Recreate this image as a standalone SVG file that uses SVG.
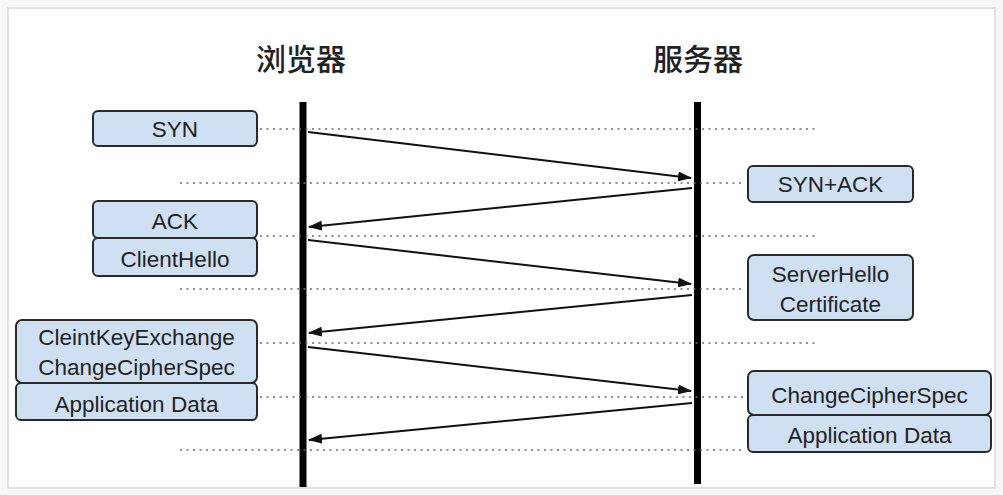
<svg xmlns="http://www.w3.org/2000/svg" width="1003" height="495" viewBox="0 0 1003 495">
<style>
.frame{fill:#ffffff;stroke:#e2e2e2;stroke-width:2}
.life{stroke:#000;stroke-width:7}
.dot{stroke:#6e6e6e;stroke-width:1.6;stroke-dasharray:2 4.5;fill:none}
.msg{stroke:#111;stroke-width:2;fill:none;marker-end:url(#ah)}
.box{fill:#cfe0f2;stroke:#2a2a2a;stroke-width:2}
.lbl{font-family:"Liberation Sans",Arial,sans-serif;font-size:22.5px;fill:#222;text-anchor:middle}
.title{font-family:"Noto Sans CJK SC","Noto Sans",sans-serif;font-size:30px;font-weight:500;fill:#222;text-anchor:middle}
</style>
<defs>
<marker id="ah" markerWidth="14" markerHeight="10" refX="13" refY="5" orient="auto" markerUnits="userSpaceOnUse">
<path d="M0,0 L14,5 L0,10 Z" fill="#111"/>
</marker>
</defs>
<rect x="0" y="0" width="1003" height="495" fill="#f7f7f7"/>
<rect class="frame" x="8" y="8" width="987" height="480"/>
<g id="browser">
<text class="title" x="301" y="70">浏览器</text>
<line class="life" x1="303" y1="102" x2="303" y2="487"/>
</g>
<g id="server">
<text class="title" x="698" y="70">服务器</text>
<line class="life" x1="697.5" y1="102" x2="697.5" y2="484"/>
</g>
<g id="guides">
<line class="dot" x1="260" y1="129" x2="815" y2="129"/>
<line class="dot" x1="180" y1="183" x2="745" y2="183"/>
<line class="dot" x1="260" y1="236" x2="815" y2="236"/>
<line class="dot" x1="180" y1="289" x2="745" y2="289"/>
<line class="dot" x1="260" y1="343" x2="815" y2="343"/>
<line class="dot" x1="260" y1="397" x2="745" y2="397"/>
<line class="dot" x1="180" y1="450" x2="745" y2="450"/>
</g>
<g id="connectors">
<line class="msg" x1="308" y1="132" x2="691" y2="178"/>
<line class="msg" x1="692" y1="188" x2="309" y2="227"/>
<line class="msg" x1="308" y1="240" x2="691" y2="284"/>
<line class="msg" x1="692" y1="295" x2="309" y2="333"/>
<line class="msg" x1="308" y1="347" x2="691" y2="391"/>
<line class="msg" x1="692" y1="403" x2="309" y2="440"/>
</g>
<g id="syn">
<rect class="box" x="93" y="111" width="164" height="35" rx="5"/>
<text class="lbl" x="175" y="137">SYN</text>
</g>
<g id="synack">
<rect class="box" x="748" y="166" width="165" height="36" rx="5"/>
<text class="lbl" x="830.5" y="192">SYN+ACK</text>
</g>
<g id="ack">
<rect class="box" x="93" y="201" width="164" height="37" rx="5"/>
<text class="lbl" x="175" y="229">ACK</text>
</g>
<g id="clienthello">
<rect class="box" x="93" y="238" width="164" height="38" rx="5"/>
<text class="lbl" x="175" y="267">ClientHello</text>
</g>
<g id="serverhello">
<rect class="box" x="748" y="255" width="165" height="65" rx="6"/>
<text class="lbl" x="830.5" y="282">ServerHello</text>
<text class="lbl" x="830.5" y="312">Certificate</text>
</g>
<g id="clientkey">
<rect class="box" x="16" y="320" width="241" height="63" rx="6"/>
<text class="lbl" x="136.5" y="345">CleintKeyExchange</text>
<text class="lbl" x="136.5" y="375">ChangeCipherSpec</text>
</g>
<g id="appdata-client">
<rect class="box" x="16" y="383" width="241" height="37" rx="5"/>
<text class="lbl" x="136.5" y="412">Application Data</text>
</g>
<g id="ccs-server">
<rect class="box" x="748" y="371" width="243" height="44" rx="6"/>
<text class="lbl" x="869.5" y="403">ChangeCipherSpec</text>
</g>
<g id="appdata-server">
<rect class="box" x="748" y="415" width="243" height="37" rx="5"/>
<text class="lbl" x="869.5" y="443">Application Data</text>
</g>
</svg>
